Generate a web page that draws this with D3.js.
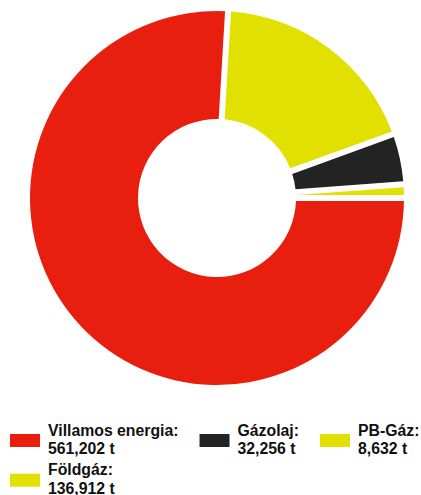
<!DOCTYPE html>
<html>
<head>
<meta charset="utf-8">
<script src="https://cdn.jsdelivr.net/npm/d3@7/dist/d3.min.js"></script>
<style>
  html, body { margin: 0; padding: 0; background: #fff; }
  svg { display: block; font-family: "Liberation Sans", Arial, sans-serif; }
</style>
</head>
<body>
<svg id="chart" width="421" height="495"></svg>
<script>
// slice order as drawn (clockwise from 3 o'clock)
var categories = ['Villamos energia', 'Földgáz', 'Gázolaj', 'PB-Gáz'];
var values = [561202, 136912, 32256, 8632];
var colors = ['#e81e0e', '#e2e000', '#232323', '#e2e000'];
// legend order
var legendOrder = ['Villamos energia', 'Gázolaj', 'PB-Gáz', 'Földgáz'];
var unit = 't';

var width = 421, height = 495;
var cx = 217, cy = 198;
var outerR = 187, innerR = 79;
var gap = 6;

var svg = d3.select('#chart');

var pie = d3.pie()
  .sort(null)
  .value(function(d) { return d.value; })
  .startAngle(Math.PI / 2)
  .endAngle(Math.PI / 2 + 2 * Math.PI);

var arc = d3.arc()
  .innerRadius(innerR)
  .outerRadius(outerR)
  .padRadius(outerR)
  .padAngle(gap / outerR);

var items = categories.map(function(c, i) {
  return { name: c, value: values[i], color: colors[i] };
});

var g = svg.append('g')
  .attr('transform', 'translate(' + cx + ',' + cy + ')');

g.selectAll('path')
  .data(pie(items))
  .enter()
  .append('path')
  .attr('d', arc)
  .attr('fill', function(d) { return d.data.color; });

// legend, flow layout with 3 items per row
var fmt = d3.format(',');
var legend = svg.append('g').attr('class', 'legend');
var perRow = 3;
var x = 10, y = 424, rowH = 39.7;

legendOrder.forEach(function(name, k) {
  var i = categories.indexOf(name);
  if (k > 0 && k % perRow === 0) {
    x = 10;
    y += rowH;
  }
  var item = legend.append('g')
    .attr('transform', 'translate(' + x + ',' + y + ')');
  var text = item.append('text')
    .attr('font-size', 15.8)
    .attr('font-weight', 'bold')
    .attr('fill', '#111');
  var l1 = text.append('tspan').attr('x', 38).attr('y', 11.7).text(name + ':');
  var l2 = text.append('tspan').attr('x', 38).attr('y', 30).text(fmt(values[i]) + ' ' + unit);
  item.append('rect')
    .attr('x', 0)
    .attr('y', 10)
    .attr('width', 30)
    .attr('height', 13)
    .attr('fill', colors[i]);

  var tw = Math.max(l1.node().getComputedTextLength(), l2.node().getComputedTextLength());
  x += 38 + tw + 21;
});
</script>
</body>
</html>
